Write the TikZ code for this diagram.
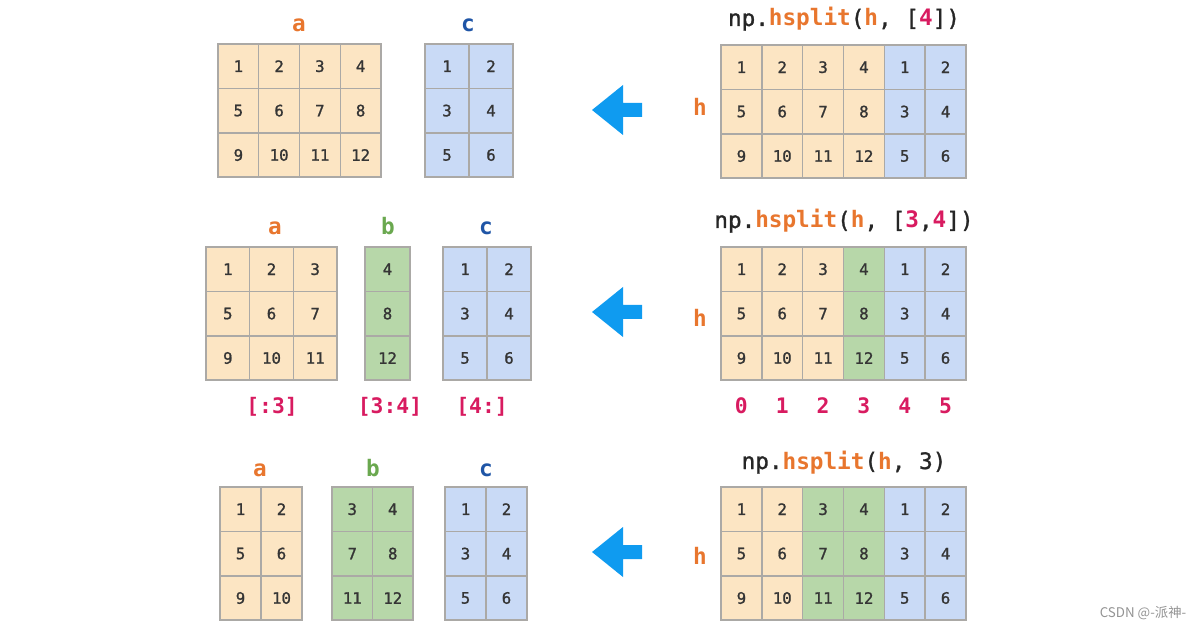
\documentclass[tikz,border=0pt]{standalone}
\usepackage{fontspec}
\setmonofont{DejaVu Sans Mono}
\newfontfamily\numfont[FakeBold=1.2]{DejaVu Sans Mono}
\newfontfamily\cjk{Noto Sans CJK SC}
\usepackage{xcolor}
\usepackage{tikz}

\definecolor{peach}{HTML}{FCE5C3}
\definecolor{leaf}{HTML}{B7D7A9}
\definecolor{sky}{HTML}{C9DAF6}
\definecolor{cellline}{HTML}{ABA9A6}
\definecolor{numtext}{HTML}{353535}
\definecolor{orng}{HTML}{E8762E}
\definecolor{grn}{HTML}{6AA84F}
\definecolor{blu}{HTML}{1F55A6}
\definecolor{mag}{HTML}{D81B60}
\definecolor{arrowblue}{HTML}{0F9BF0}

\begin{document}
\begin{tikzpicture}[x=0.75pt, y=-0.75pt,
        cell/.style={draw=cellline, line width=1.1pt, minimum height=33.3pt, inner sep=0pt, text=numtext, font=\numfont\fontsize{11.8}{12}\selectfont},
        title/.style={anchor=base, inner sep=0pt, text=black!85, font=\numfont\fontsize{17}{17}\selectfont},
        part/.style={anchor=base, inner sep=0pt, font=\ttfamily\bfseries\fontsize{17}{17}\selectfont},
        index/.style={anchor=base, inner sep=0pt, text=mag, font=\ttfamily\bfseries\fontsize{16}{16}\selectfont},
        arrowhead/.style={fill=arrowblue}
    ]
        \useasboundingbox (0,0) rectangle (1201,630);

        % blocks: name / left / top / cell width / columns / first value / row step / fill
        \foreach \blk/\x/\y/\w/\n/\f/\s/\col in {
                a1/218/44/40.75/4/1/4/peach, c1/425/44/44/2/1/2/sky,
                ha1/721/45/40.83/4/1/4/peach, hc1/884.3/45/40.83/2/1/2/sky,
                a2/206/247/43.67/3/1/4/peach, b2/365/247/45/1/4/4/leaf, c2/443/247/44/2/1/2/sky,
                ha2/721/247/40.83/3/1/4/peach, hb2/843.5/247/40.83/1/4/4/leaf, hc2/884.3/247/40.83/2/1/2/sky,
                a3/220/487/41/2/1/4/peach, b3/332/487/40.5/2/3/4/leaf, c3/445/487/41/2/1/2/sky,
                ha3/721/487/40.83/2/1/4/peach, hb3/802.7/487/40.83/2/3/4/leaf, hc3/884.3/487/40.83/2/1/2/sky} {
            \foreach \r in {1,2,3} {
                \foreach \c in {1,...,\n} {
                    \pgfmathtruncatemacro{\v}{\s*(\r-1)+\f+\c-1}
                    \node[cell, fill=\col, minimum width={\w*0.75pt}] (\blk-\r-\c) at ({\x+(\c-0.5)*\w}, {\y+(\r-0.5)*44.4}) {\v};
                }
            }
        }

        % calls
        \node[title] (call1) at (844,26) {np.{\ttfamily\bfseries\textcolor{orng}{hsplit}}({\ttfamily\bfseries\textcolor{orng}{h}}, [{\ttfamily\bfseries\textcolor{mag}{4}}])};
        \node[title] (call2) at (844,228) {np.{\ttfamily\bfseries\textcolor{orng}{hsplit}}({\ttfamily\bfseries\textcolor{orng}{h}}, [{\ttfamily\bfseries\textcolor{mag}{3}},{\ttfamily\bfseries\textcolor{mag}{4}}])};
        \node[title] (call3) at (844,469) {np.{\ttfamily\bfseries\textcolor{orng}{hsplit}}({\ttfamily\bfseries\textcolor{orng}{h}}, 3)};

        % array names
        \foreach \lbl/\x/\y/\col in {a/299/32/orng, c/468/32/blu,
                a/275/235/orng, b/388/235/grn, c/486/235/blu,
                a/260/476/orng, b/373/476/grn, c/486/476/blu,
                h/700/116/orng, h/700/327/orng, h/700/564/orng}
            \node[part, text=\col] (name-\lbl-\y) at (\x,\y) {\lbl};

        % column indices and slices
        \foreach \i in {0,...,5}
            \node[index] (idx\i) at ({741.4+\i*40.83},413) {\i};
        \node[index] (sl1) at (272,413) {[:3]};
        \node[index] (sl2) at (390,413) {[3:4]};
        \node[index] (sl3) at (482,413) {[4:]};

        % arrows
        \foreach \y in {110,312,552}
            \fill[arrowhead] (592,\y) -- (623,{\y-25}) -- (623,{\y-7}) -- (642,{\y-7}) -- (642,{\y+7}) -- (623,{\y+7}) -- (623,{\y+25}) -- cycle;

        \node[text=gray!85, font=\cjk\fontsize{10}{10}\selectfont] (mark) at (1143,613) {CSDN @-派神-};
    \end{tikzpicture}
\end{document}
